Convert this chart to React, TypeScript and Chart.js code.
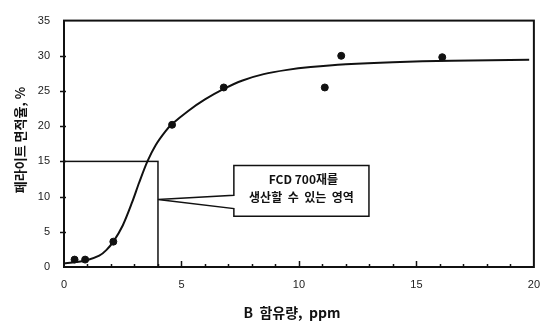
import React, { useEffect, useRef } from "react";
import { Chart, registerables } from "chart.js";

Chart.register(...registerables);

// Measured ferrite area fraction vs. boron content
const boronPpm = [0.45, 0.9, 2.1, 4.6, 6.8, 11.1, 11.8, 16.1];
const ferritePct = [1.05, 1.05, 3.6, 20.2, 25.5, 25.5, 30.0, 29.8];

// Fitted trend curve
const fitX = [0, 0.5, 1, 1.5, 1.8, 2.1, 2.5, 2.9, 3.2, 3.55, 3.9, 4.3, 4.6, 5.3, 6.0, 6.8, 7.6, 8.5, 9.5, 10.5, 12, 14, 16.5, 19.8];
const fitY = [0.5, 0.7, 1.0, 1.6, 2.4, 3.6, 5.9, 9.2, 12.0, 15.0, 17.3, 19.2, 20.3, 22.2, 23.8, 25.3, 26.5, 27.4, 28.0, 28.4, 28.8, 29.1, 29.3, 29.45];

// Axis ranges and labels
const xMin = 0, xMax = 20, xMajor = 5, xMinor = 1;
const yMin = 0, yMax = 35, yStep = 5;
const xTitle = "B  함유량,  ppm";
const yTitle = "페라이트 면적율, %";
const calloutLines = ["FCD 700재를", "생산할  수  있는  영역"];

// Producible region: B up to 4 ppm, ferrite up to 15 %
const regionX = 4, regionY = 15;

const INK = "#111";

const decorPlugin = {
  id: "decor",
  afterDatasetsDraw(chart: any) {
    const { ctx, chartArea: a, scales } = chart;
    const xs = scales.x, ys = scales.y;
    ctx.save();
    ctx.strokeStyle = INK;
    ctx.fillStyle = INK;

    // frame
    ctx.lineWidth = 2;
    ctx.strokeRect(a.left, a.top, a.right - a.left, a.bottom - a.top);

    // x ticks (inside)
    ctx.lineWidth = 1.5;
    for (let v = xMin + xMinor; v < xMax; v += xMinor) {
      const px = Math.round(xs.getPixelForValue(v)) + 0.5;
      const len = v % xMajor === 0 ? 6 : 3;
      ctx.beginPath();
      ctx.moveTo(px, a.bottom);
      ctx.lineTo(px, a.bottom - len);
      ctx.stroke();
    }
    // y ticks
    for (let v = yMin + yStep; v < yMax; v += yStep) {
      const py = Math.round(ys.getPixelForValue(v)) + 0.5;
      ctx.beginPath();
      ctx.moveTo(a.left - 4, py);
      ctx.lineTo(a.left + 2, py);
      ctx.stroke();
    }

    // region rectangle
    ctx.lineWidth = 1.5;
    const rx = xs.getPixelForValue(regionX);
    const ry = ys.getPixelForValue(regionY);
    ctx.strokeRect(a.left, ry, rx - a.left, a.bottom - ry);

    // callout box with pointer
    const bl = xs.getPixelForValue(7.23), br = xs.getPixelForValue(12.98);
    const bt = ys.getPixelForValue(14.4), bb = ys.getPixelForValue(7.2);
    const tipY = ys.getPixelForValue(9.6);
    const p1 = ys.getPixelForValue(10.2), p2 = ys.getPixelForValue(8.3);
    ctx.fillStyle = "#fff";
    ctx.beginPath();
    ctx.moveTo(bl, p1);
    ctx.lineTo(bl, bt);
    ctx.lineTo(br, bt);
    ctx.lineTo(br, bb);
    ctx.lineTo(bl, bb);
    ctx.lineTo(bl, p2);
    ctx.lineTo(rx, tipY);
    ctx.closePath();
    ctx.fill();
    ctx.stroke();

    ctx.fillStyle = INK;
    ctx.font = "bold 12px 'Noto Sans CJK KR', sans-serif";
    ctx.textAlign = "center";
    ctx.textBaseline = "middle";
    const cx = (bl + br) / 2;
    ctx.fillText(calloutLines[0], cx + 2, 179);
    ctx.fillText(calloutLines[1], cx, 197);

    // axis titles
    ctx.font = "bold 14px 'Noto Sans CJK KR', sans-serif";
    ctx.fillText(xTitle, 292, 313);
    ctx.save();
    ctx.translate(20, 140);
    ctx.rotate(-Math.PI / 2);
    ctx.font = "bold 13px 'Noto Sans CJK KR', sans-serif";
    ctx.fillText(yTitle, 0, 0);
    ctx.restore();

    ctx.restore();
  },
};

export default function App() {
  const ref = useRef<HTMLCanvasElement>(null);

  useEffect(() => {
    document.body.style.margin = "0";
    const chart = new Chart(ref.current!, {
      type: "scatter",
      data: {
        datasets: [
          {
            type: "line",
            data: fitX.map((x, i) => ({ x, y: fitY[i] })),
            borderColor: INK,
            borderWidth: 2,
            pointRadius: 0,
            tension: 0.3,
            fill: false,
          } as any,
          {
            data: boronPpm.map((x, i) => ({ x, y: ferritePct[i] })),
            backgroundColor: INK,
            borderColor: INK,
            pointRadius: 3.5,
          },
        ],
      },
      options: {
        animation: false,
        responsive: false,
        events: [],
        layout: { padding: { left: 0, top: 13, right: 11, bottom: 0 } },
        plugins: { legend: { display: false }, tooltip: { enabled: false } },
        scales: {
          x: {
            type: "linear",
            min: xMin,
            max: xMax,
            border: { display: false },
            grid: { display: false, drawTicks: false },
            ticks: {
              stepSize: xMajor,
              padding: 11,
              color: "#222",
              font: { family: "Arial, 'Liberation Sans', sans-serif", size: 11 },
            },
            afterFit: (s: any) => {
              s.height = 60;
            },
          },
          y: {
            type: "linear",
            min: yMin,
            max: yMax,
            border: { display: false },
            grid: { display: false, drawTicks: false },
            ticks: {
              stepSize: yStep,
              padding: 14,
              color: "#222",
              font: { family: "Arial, 'Liberation Sans', sans-serif", size: 11 },
            },
            afterFit: (s: any) => {
              s.width = 64;
            },
          },
        },
      },
      plugins: [decorPlugin],
    });
    return () => chart.destroy();
  }, []);

  return (
    <div style={{ position: "fixed", left: 0, top: 0, width: 551, height: 327, background: "#fff" }}>
      <canvas ref={ref} width={551} height={327} />
    </div>
  );
}
